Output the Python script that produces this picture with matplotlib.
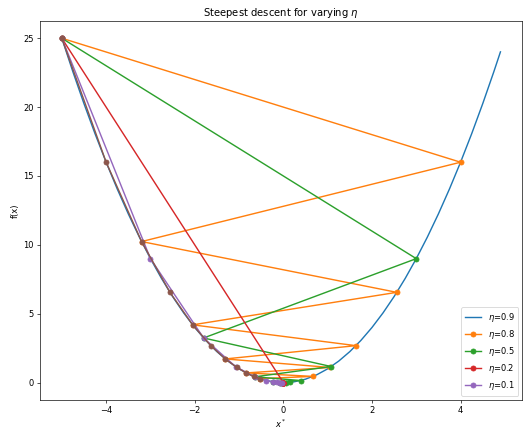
import numpy as np
import matplotlib.pyplot as plt

# objective f(x) = x^2 sampled on the plotted grid
curve_x = [-5.0, -4.75, -4.5, -4.25, -4.0, -3.75, -3.5, -3.25, -3.0, -2.75, -2.5, -2.25,
           -2.0, -1.75, -1.5, -1.25, -1.0, -0.75, -0.5, -0.25, 0.0, 0.25, 0.5, 0.75,
           1.0, 1.25, 1.5, 1.75, 2.0, 2.25, 2.5, 2.75, 3.0, 3.25, 3.5, 3.75, 4.0, 4.25,
           4.5, 4.75, 4.9]
curve_y = [25.0, 22.5625, 20.25, 18.0625, 16.0, 14.0625, 12.25, 10.5625, 9.0, 7.5625,
           6.25, 5.0625, 4.0, 3.0625, 2.25, 1.5625, 1.0, 0.5625, 0.25, 0.0625, 0.0,
           0.0625, 0.25, 0.5625, 1.0, 1.5625, 2.25, 3.0625, 4.0, 5.0625, 6.25, 7.5625,
           9.0, 10.5625, 12.25, 14.0625, 16.0, 18.0625, 20.25, 22.5625, 24.01]

# iterates of each run
iter_a = [-5.0, 4.0, -3.2, 2.56, -2.048, 1.638, -1.311, 1.049, -0.839, 0.671, -0.537]
iter_b = [-5.0, 3.0, -1.8, 1.08, -0.648, 0.389, -0.233, 0.140, -0.084, 0.050, -0.030]
iter_c = [-5.0, 0.0, 0.0, 0.0, 0.0, 0.0, 0.0, 0.0, 0.0, 0.0, 0.0]
iter_d = [-5.0, -3.0, -1.8, -1.08, -0.648, -0.389, -0.233, -0.140, -0.084, -0.050, -0.030]
iter_e = [-5.0, -4.0, -3.2, -2.56, -2.048, -1.638, -1.311, -1.049, -0.839, -0.671, -0.537]
runs = [iter_a, iter_b, iter_c, iter_d, iter_e]

labels = ["$\\eta$=0.9", "$\\eta$=0.8", "$\\eta$=0.5", "$\\eta$=0.2", "$\\eta$=0.1"]

DPI = 60
fig = plt.figure(figsize=(525 / DPI, 429 / DPI), dpi=DPI)
ax = fig.add_subplot(111)
fig.subplots_adjust(left=0.076, right=0.995, top=0.951, bottom=0.068)

ax.plot(curve_x, curve_y, lw=1.7)
for xs in runs:
    xs = np.array(xs)
    ax.plot(xs, xs ** 2, marker="o", lw=1.7)

ax.legend(labels, loc="lower right", labelspacing=0.5)
ax.set_title("Steepest descent for varying $\\eta$")
ax.set_xlabel("$x^*$")
ax.set_ylabel("f(x)")

fig.savefig("out.png", dpi=DPI)
